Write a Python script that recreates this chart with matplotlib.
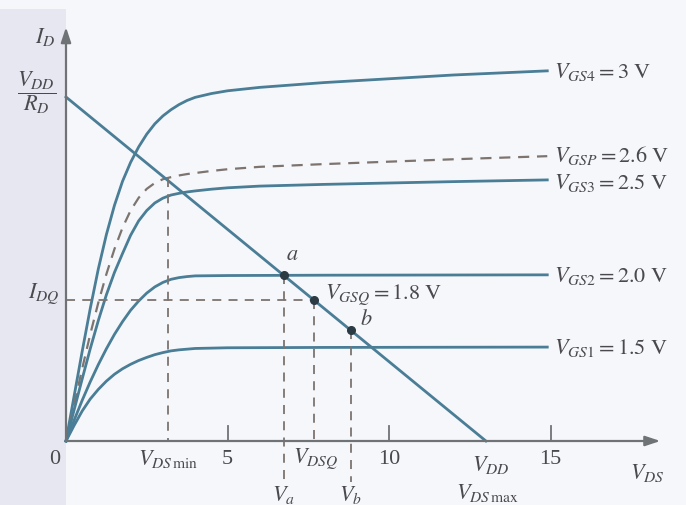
import matplotlib
matplotlib.use("Agg")
import matplotlib.pyplot as plt
from matplotlib.patches import Rectangle

plt.rcParams['font.family'] = ['Liberation Serif', 'DejaVu Serif']
plt.rcParams['mathtext.fontset'] = 'stix'

# ---------------- data ----------------
VDD = 13.0          # V  (load line end on V_DS axis)
ID_MAX = 10.0       # V_DD / R_D  (arbitrary units)

knee_vds = [0, 0.25, 0.5, 0.75, 1.0, 1.25, 1.5, 1.75, 2.0, 2.25, 2.5, 2.75, 3.0, 3.25, 3.5, 3.75, 4.0]

vgs4_vds = knee_vds + [4.5, 5.0, 6.0, 8.0, 10.0, 12.0, 14.9]
vgs4_id  = [0, 1.3, 2.6, 3.85, 5.0, 6.0, 6.85, 7.55, 8.1, 8.55, 8.92, 9.22, 9.45, 9.63, 9.78, 9.9, 9.99,
            10.1, 10.18, 10.28, 10.42, 10.53, 10.64, 10.76]

vgsp_vds = knee_vds + [4.5, 5.0, 6.0, 8.0, 10.0, 12.0, 14.9]
vgsp_id  = [0, 1.05, 2.1, 3.1, 4.02, 4.85, 5.58, 6.2, 6.7, 7.07, 7.33, 7.5, 7.61, 7.67, 7.72, 7.76, 7.79,
            7.85, 7.9, 7.97, 8.05, 8.12, 8.19, 8.28]

vgs3_vds = knee_vds + [4.5, 5.0, 6.0, 8.0, 10.0, 12.0, 14.9]
vgs3_id  = [0, 0.9, 1.8, 2.68, 3.5, 4.25, 4.9, 5.45, 5.98, 6.4, 6.7, 6.92, 7.06, 7.15, 7.2, 7.24, 7.27,
            7.32, 7.36, 7.41, 7.46, 7.5, 7.54, 7.59]

vgs2_vds = knee_vds + [5.0, 8.0, 14.9]
vgs2_id  = [0, 0.6, 1.18, 1.72, 2.22, 2.68, 3.1, 3.47, 3.8, 4.07, 4.3, 4.48, 4.61, 4.7, 4.75, 4.78, 4.8,
            4.81, 4.82, 4.83]

vgs1_vds = knee_vds + [5.0, 8.0, 14.9]
vgs1_id  = [0, 0.45, 0.87, 1.22, 1.5, 1.74, 1.94, 2.1, 2.23, 2.34, 2.43, 2.51, 2.57, 2.62, 2.65, 2.67, 2.69,
            2.71, 2.72, 2.73]

curve_labels = [r'$V_{GS4} = 3\ \mathrm{V}$', r'$V_{GSP} = 2.6\ \mathrm{V}$',
                r'$V_{GS3} = 2.5\ \mathrm{V}$', r'$V_{GS2} = 2.0\ \mathrm{V}$',
                r'$V_{GS1} = 1.5\ \mathrm{V}$']

VDS_MIN = 3.15
VA, VDSQ, VB = 6.74, 7.67, 8.82
x_ticks = [5, 10, 15]

# ---------------- styling ----------------
curve_c = '#4a7d96'
dash_c = '#7d7470'
axis_c = '#707375'
text_c = '#4a4a4e'
FS = 16

fig = plt.figure(figsize=(6.86, 5.06), dpi=100)
fig.patch.set_facecolor('#f6f7fa')
fig.add_artist(Rectangle((0, 0), 66 / 686, 496 / 506, transform=fig.transFigure,
                         facecolor='#e6e7f0', edgecolor='none', zorder=0))
ax = fig.add_axes([0, 0, 1, 1])
ax.set_facecolor('none')
ax.set_xlim(-66 / 32.3, (686 - 66) / 32.3)
ax.set_ylim((442 - 506) / 34.4, 442 / 34.4)
ax.axis('off')

# axes with arrows
ax.annotate('', xy=(18.4, 0), xytext=(0, 0),
            arrowprops=dict(arrowstyle='-|>,head_length=0.9,head_width=0.3',
                            lw=1.6, color=axis_c, shrinkA=0, shrinkB=0))
ax.annotate('', xy=(0, 12.03), xytext=(0, 0),
            arrowprops=dict(arrowstyle='-|>,head_length=0.9,head_width=0.3',
                            lw=1.6, color=axis_c, shrinkA=0, shrinkB=0))
for t in x_ticks:
    ax.plot([t, t], [0, 0.45], color=axis_c, lw=1.3)

# characteristic curves
lw = 2.0
ax.plot(vgs4_vds, vgs4_id, color=curve_c, lw=lw, solid_joinstyle='round')
ax.plot(vgsp_vds, vgsp_id, color=dash_c, lw=1.6, dashes=(5, 3.5))
ax.plot(vgs3_vds, vgs3_id, color=curve_c, lw=lw, solid_joinstyle='round')
ax.plot(vgs2_vds, vgs2_id, color=curve_c, lw=lw, solid_joinstyle='round')
ax.plot(vgs1_vds, vgs1_id, color=curve_c, lw=lw, solid_joinstyle='round')

# load line
ax.plot([0, VDD], [ID_MAX, 0], color=curve_c, lw=lw)

def load(v):
    return ID_MAX * (1 - v / VDD)

IDQ = load(VDSQ)
id_a, id_b = load(VA), load(VB)

# dashed guide lines
dkw = dict(color=dash_c, lw=1.3, dashes=(5, 4))
ax.plot([0, VDSQ], [IDQ, IDQ], **dkw)
ax.plot([VDSQ, VDSQ], [IDQ, 0], **dkw)
ax.plot([VA, VA], [id_a, -1.2], **dkw)
ax.plot([VB, VB], [id_b, -1.2], **dkw)
ax.plot([VDS_MIN, VDS_MIN], [7.65, 0], **dkw)

# operating points
ax.plot([VA, VDSQ, VB], [id_a, IDQ, id_b], 'o', color='#2c3a44', ms=5.5, zorder=5)

# curve labels
ends = [vgs4_id[-1], vgsp_id[-1] + 0.05, vgs3_id[-1] - 0.05, vgs2_id[-1], vgs1_id[-1]]
for lab, y in zip(curve_labels, ends):
    ax.text(15.1, y, lab, fontsize=FS, color=text_c, ha='left', va='center')

ax.text(8.02, 4.27, r'$V_{GSQ} = 1.8\ \mathrm{V}$', fontsize=FS, color=text_c, ha='left', va='center')
ax.text(7.0, 5.41, r'$a$', fontsize=FS, color=text_c, ha='center', va='center')
ax.text(9.3, 3.55, r'$b$', fontsize=FS, color=text_c, ha='center', va='center')

# axis labels
ax.text(-0.65, 11.77, r'$I_D$', fontsize=FS, color=text_c, ha='center', va='center')
ax.text(-0.9, 10.15, r'$\dfrac{V_{DD}}{R_D}$', fontsize=FS, color=text_c, ha='center', va='center')
ax.text(-0.2, 4.3, r'$I_{DQ}$', fontsize=FS, color=text_c, ha='right', va='center')

yl = -0.5
ax.text(-0.34, yl, '0', fontsize=FS, color=text_c, ha='center', va='center')
for t in x_ticks:
    ax.text(t, yl, str(t), fontsize=FS, color=text_c, ha='center', va='center')
ax.text(VDS_MIN, yl, r'$V_{DS\,\mathrm{min}}$', fontsize=FS, color=text_c, ha='center', va='center')
ax.text(VDSQ + 0.07, yl, r'$V_{DSQ}$', fontsize=FS, color=text_c, ha='center', va='center')
ax.text(VA, -1.54, r'$V_a$', fontsize=FS, color=text_c, ha='center', va='center')
ax.text(VB, -1.54, r'$V_b$', fontsize=FS, color=text_c, ha='center', va='center')
ax.text(VDD + 0.15, -0.67, r'$V_{DD}$', fontsize=FS, color=text_c, ha='center', va='center')
ax.text(VDD + 0.05, -1.48, r'$V_{DS\,\mathrm{max}}$', fontsize=FS, color=text_c, ha='center', va='center')
ax.text(18.0, -0.9, r'$V_{DS}$', fontsize=FS, color=text_c, ha='center', va='center')

fig.savefig('out.png', dpi=100, facecolor=fig.get_facecolor())
